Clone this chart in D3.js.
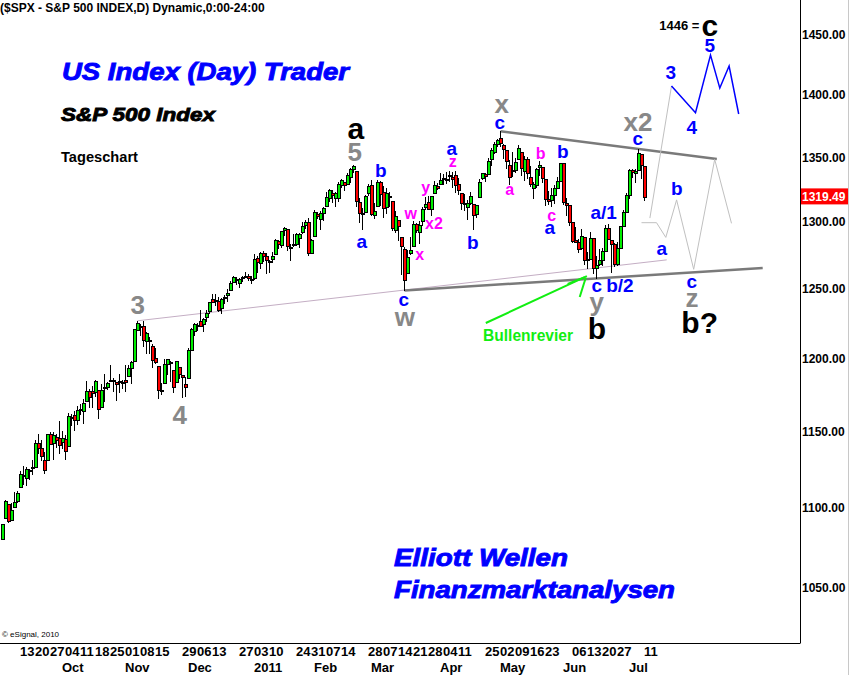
<!DOCTYPE html>
<html>
<head>
<meta charset="utf-8">
<script src="https://cdn.jsdelivr.net/npm/d3@7"></script>
<style>
body { margin: 0; background: #fff; }
svg { display: block; font-family: "Liberation Sans", Arial, sans-serif; }
</style>
</head>
<body>
<svg id="chart" width="850" height="675"></svg>
<script>
// S&P 500 daily candles, Sep 2010 - Jul 2011
var dates = [
 "2010-09-02","2010-09-03","2010-09-07","2010-09-08","2010-09-09","2010-09-10","2010-09-13","2010-09-14","2010-09-15","2010-09-16","2010-09-17","2010-09-20","2010-09-21","2010-09-22","2010-09-23","2010-09-24","2010-09-27","2010-09-28","2010-09-29","2010-09-30",
 "2010-10-01","2010-10-04","2010-10-05","2010-10-06","2010-10-07","2010-10-08","2010-10-11","2010-10-12","2010-10-13","2010-10-14","2010-10-15","2010-10-18","2010-10-19","2010-10-20","2010-10-21","2010-10-22","2010-10-25","2010-10-26","2010-10-27","2010-10-28","2010-10-29",
 "2010-11-01","2010-11-02","2010-11-03","2010-11-04","2010-11-05","2010-11-08","2010-11-09","2010-11-10","2010-11-11","2010-11-12","2010-11-15","2010-11-16","2010-11-17","2010-11-18","2010-11-19","2010-11-22","2010-11-23","2010-11-24","2010-11-26","2010-11-29","2010-11-30",
 "2010-12-01","2010-12-02","2010-12-03","2010-12-06","2010-12-07","2010-12-08","2010-12-09","2010-12-10","2010-12-13","2010-12-14","2010-12-15","2010-12-16","2010-12-17","2010-12-20","2010-12-21","2010-12-22","2010-12-23","2010-12-27","2010-12-28","2010-12-29","2010-12-30","2010-12-31",
 "2011-01-03","2011-01-04","2011-01-05","2011-01-06","2011-01-07","2011-01-10","2011-01-11","2011-01-12","2011-01-13","2011-01-14","2011-01-18","2011-01-19","2011-01-20","2011-01-21","2011-01-24","2011-01-25","2011-01-26","2011-01-27","2011-01-28","2011-01-31",
 "2011-02-01","2011-02-02","2011-02-03","2011-02-04","2011-02-07","2011-02-08","2011-02-09","2011-02-10","2011-02-11","2011-02-14","2011-02-15","2011-02-16","2011-02-17","2011-02-18","2011-02-22","2011-02-23","2011-02-24","2011-02-25","2011-02-28",
 "2011-03-01","2011-03-02","2011-03-03","2011-03-04","2011-03-07","2011-03-08","2011-03-09","2011-03-10","2011-03-11","2011-03-14","2011-03-15","2011-03-16","2011-03-17","2011-03-18","2011-03-21","2011-03-22","2011-03-23","2011-03-24","2011-03-25","2011-03-28","2011-03-29","2011-03-30","2011-03-31",
 "2011-04-01","2011-04-04","2011-04-05","2011-04-06","2011-04-07","2011-04-08","2011-04-11","2011-04-12","2011-04-13","2011-04-14","2011-04-15","2011-04-18","2011-04-19","2011-04-20","2011-04-21","2011-04-25","2011-04-26","2011-04-27","2011-04-28","2011-04-29",
 "2011-05-02","2011-05-03","2011-05-04","2011-05-05","2011-05-06","2011-05-09","2011-05-10","2011-05-11","2011-05-12","2011-05-13","2011-05-16","2011-05-17","2011-05-18","2011-05-19","2011-05-20","2011-05-23","2011-05-24","2011-05-25","2011-05-26","2011-05-27","2011-05-31",
 "2011-06-01","2011-06-02","2011-06-03","2011-06-06","2011-06-07","2011-06-08","2011-06-09","2011-06-10","2011-06-13","2011-06-14","2011-06-15","2011-06-16","2011-06-17","2011-06-20","2011-06-21","2011-06-22","2011-06-23","2011-06-24","2011-06-27","2011-06-28","2011-06-29","2011-06-30",
 "2011-07-01","2011-07-05","2011-07-06","2011-07-07","2011-07-08","2011-07-11"
];

var opens = [
 1080.66,1093.61,1102.60,1092.36,1101.15,1104.57,1113.38,1121.16,1119.43,1123.89,1126.39,1126.57,1142.82,1139.49,1131.10,1131.69,1148.64,1142.31,1146.75,1145.97,
 1143.49,1144.96,1140.68,1159.81,1161.57,1158.36,1165.32,1164.28,1171.32,1177.82,1177.47,1176.83,1178.64,1166.74,1179.56,1180.52,1184.74,1184.88,1183.84,1184.47,1183.87,
 1185.71,1187.86,1193.79,1198.34,1221.20,1223.24,1223.59,1213.14,1213.04,1209.07,1200.44,1194.79,1178.33,1183.75,1196.12,1198.07,1192.51,1183.70,1194.16,1189.08,1182.96,
 1186.60,1206.81,1219.93,1223.87,1227.25,1225.02,1230.14,1233.85,1242.52,1241.84,1241.58,1236.34,1243.63,1245.76,1249.43,1254.94,1257.53,1254.66,1259.10,1258.78,1259.44,1256.76,
 1257.62,1272.95,1268.78,1276.29,1274.41,1270.84,1272.58,1275.65,1285.78,1282.90,1293.22,1294.52,1280.85,1283.63,1283.29,1288.17,1291.97,1297.51,1299.63,1276.50,
 1289.14,1305.91,1302.77,1307.01,1311.85,1318.76,1322.48,1318.13,1318.66,1328.73,1330.43,1329.51,1334.37,1340.38,1338.91,1315.44,1307.09,1307.34,1321.61,
 1328.64,1305.47,1312.37,1330.73,1322.72,1311.05,1319.92,1315.72,1293.43,1301.19,1288.46,1279.46,1261.61,1276.71,1281.65,1298.29,1292.19,1300.61,1311.80,1315.45,1309.37,1321.89,1327.44,
 1329.48,1333.56,1332.03,1335.94,1334.82,1336.16,1329.01,1321.96,1314.03,1311.13,1314.54,1313.35,1305.99,1319.12,1333.23,1337.14,1336.75,1348.43,1353.86,1360.14,
 1365.21,1359.76,1355.90,1344.16,1340.24,1340.20,1348.34,1354.51,1339.39,1348.69,1334.77,1326.10,1328.54,1342.40,1342.00,1333.07,1317.70,1316.36,1320.64,1325.69,1331.10,
 1345.20,1314.55,1312.94,1300.26,1286.31,1284.63,1279.63,1288.26,1271.31,1272.22,1287.87,1265.53,1268.58,1271.50,1278.40,1295.48,1286.60,1283.04,1268.44,1280.21,1296.85,1307.64,
 1320.64,1339.59,1337.56,1339.62,1352.39,1343.31
];

var highs = [
 1090.10,1105.10,1102.60,1103.26,1110.27,1110.88,1123.87,1127.36,1126.46,1125.44,1131.47,1144.86,1148.59,1144.38,1136.77,1148.90,1149.92,1150.00,1148.63,1157.16,
 1150.30,1148.16,1162.76,1162.33,1163.87,1167.73,1168.68,1172.58,1184.38,1178.89,1181.20,1185.53,1178.64,1182.94,1189.43,1183.93,1196.14,1187.11,1183.84,1189.53,1185.46,
 1195.81,1195.88,1198.30,1221.25,1227.08,1224.57,1226.84,1218.75,1215.45,1210.50,1207.43,1194.79,1183.56,1200.29,1199.97,1198.94,1192.51,1198.62,1194.16,1189.08,1187.40,
 1207.61,1221.89,1225.57,1225.80,1235.05,1228.93,1234.71,1240.40,1246.73,1246.59,1244.25,1243.75,1245.81,1250.20,1255.82,1259.39,1258.59,1258.43,1259.90,1262.60,1261.09,1259.34,
 1276.17,1274.12,1277.63,1278.17,1276.83,1271.52,1277.25,1286.87,1286.70,1293.24,1296.06,1294.60,1283.35,1291.21,1291.93,1291.26,1299.74,1301.63,1302.67,1287.17,
 1308.86,1307.61,1308.60,1311.00,1322.85,1324.87,1324.54,1322.78,1330.79,1332.96,1330.43,1337.61,1341.50,1344.07,1338.91,1317.91,1310.91,1320.61,1329.38,
 1332.09,1314.19,1332.28,1331.08,1327.68,1325.74,1323.21,1315.72,1308.35,1301.19,1288.46,1280.91,1278.88,1288.88,1300.58,1299.35,1300.51,1311.34,1319.18,1319.74,1319.45,1331.74,1329.77,
 1337.85,1336.74,1338.21,1339.38,1338.80,1339.46,1333.77,1321.96,1321.35,1316.79,1322.88,1313.35,1312.70,1332.66,1337.49,1337.55,1349.55,1357.49,1361.71,1364.56,
 1370.58,1360.84,1355.90,1348.00,1354.36,1349.44,1359.44,1354.51,1351.05,1350.47,1343.33,1330.42,1341.82,1346.82,1342.00,1333.07,1323.72,1325.86,1328.51,1334.62,1345.20,
 1345.20,1318.03,1312.94,1300.26,1296.22,1287.04,1294.54,1288.26,1277.04,1292.50,1287.87,1274.11,1279.82,1280.42,1297.62,1298.61,1286.60,1283.93,1284.91,1296.80,1309.21,1321.97,
 1341.01,1340.89,1340.94,1356.48,1352.39,1343.31
];

var lows = [
 1080.39,1093.61,1091.15,1092.36,1101.15,1103.92,1113.38,1115.58,1114.63,1118.88,1122.43,1126.57,1136.22,1131.58,1122.79,1131.69,1142.00,1132.09,1140.26,1136.08,
 1139.42,1131.87,1140.68,1154.85,1151.41,1155.58,1162.02,1155.71,1171.32,1166.71,1167.12,1174.55,1159.71,1166.74,1171.17,1178.99,1184.74,1177.72,1171.70,1177.10,1179.70,
 1177.65,1187.86,1183.56,1198.34,1220.29,1217.19,1208.94,1204.33,1204.49,1194.08,1197.15,1173.00,1175.82,1183.75,1189.44,1184.58,1176.91,1183.70,1186.93,1173.64,1174.14,
 1186.60,1206.81,1216.82,1220.67,1223.25,1219.50,1226.85,1232.58,1240.34,1238.17,1234.01,1232.85,1239.87,1241.51,1249.43,1254.94,1254.05,1251.48,1256.22,1258.78,1256.32,1254.19,
 1257.62,1262.66,1265.36,1270.43,1261.70,1262.18,1269.62,1275.65,1280.47,1281.24,1290.16,1278.92,1271.26,1282.07,1282.47,1281.07,1291.97,1295.61,1275.10,1276.50,
 1289.14,1302.62,1294.83,1301.67,1311.85,1316.03,1314.89,1311.74,1316.08,1326.90,1324.61,1329.51,1331.00,1338.12,1312.33,1299.55,1294.26,1307.34,1320.55,
 1305.34,1302.58,1312.37,1312.59,1303.99,1306.86,1312.27,1294.21,1291.99,1286.37,1261.12,1249.05,1261.61,1276.18,1281.65,1292.70,1284.05,1297.74,1310.15,1310.19,1305.26,1321.89,1325.03,
 1328.89,1329.10,1330.03,1331.09,1326.56,1322.94,1321.06,1309.51,1309.19,1302.42,1313.68,1294.70,1303.97,1319.12,1332.83,1331.47,1336.75,1344.25,1353.60,1358.69,
 1358.59,1349.52,1341.50,1329.17,1335.58,1338.64,1348.34,1336.36,1332.03,1333.36,1327.32,1318.51,1326.59,1336.36,1330.67,1312.88,1313.87,1311.80,1314.41,1325.69,1331.10,
 1313.71,1305.61,1297.90,1284.72,1284.74,1277.42,1279.63,1268.28,1265.64,1272.22,1261.90,1258.07,1267.40,1267.56,1278.40,1286.79,1262.87,1267.24,1267.53,1280.21,1296.85,1307.64,
 1318.18,1334.30,1330.92,1339.62,1333.71,1316.42
];

var closes = [
 1090.10,1104.51,1091.84,1098.87,1104.18,1109.55,1121.90,1121.10,1125.07,1124.66,1125.59,1142.71,1139.78,1134.28,1124.83,1148.67,1142.16,1147.70,1144.73,1141.20,
 1146.24,1137.03,1160.75,1159.97,1158.06,1165.15,1165.32,1169.77,1178.10,1173.81,1176.19,1184.71,1165.90,1178.17,1180.26,1183.08,1185.62,1185.64,1182.45,1183.78,1183.26,
 1184.38,1193.57,1197.96,1221.06,1225.85,1223.25,1213.40,1218.71,1213.54,1199.21,1197.75,1178.34,1178.59,1196.69,1199.73,1197.84,1180.73,1198.35,1189.40,1187.76,1180.55,
 1206.07,1221.53,1224.71,1223.12,1223.75,1228.28,1233.00,1240.40,1240.46,1241.59,1235.23,1242.87,1243.91,1247.08,1254.60,1258.84,1256.77,1257.54,1258.51,1259.78,1257.88,1257.64,
 1271.87,1270.20,1276.56,1273.85,1271.50,1269.75,1274.48,1285.96,1283.76,1293.24,1295.02,1281.92,1280.26,1283.35,1290.84,1291.18,1296.63,1299.54,1276.34,1286.12,
 1307.59,1304.03,1307.10,1310.87,1319.05,1324.57,1320.88,1321.87,1329.15,1332.32,1328.01,1336.32,1340.43,1343.01,1315.44,1307.40,1306.10,1319.88,1327.22,
 1306.33,1308.44,1330.97,1321.15,1310.13,1321.82,1320.02,1295.11,1304.28,1296.39,1281.87,1256.88,1273.72,1279.21,1298.38,1293.77,1297.54,1309.66,1313.80,1310.19,1319.44,1328.26,1325.83,
 1332.41,1332.87,1332.63,1335.54,1333.51,1328.17,1324.46,1314.16,1314.41,1314.52,1319.68,1305.14,1312.62,1330.36,1337.38,1335.25,1347.24,1355.66,1360.48,1363.61,
 1361.22,1356.62,1347.32,1335.10,1340.20,1346.29,1357.16,1342.08,1348.65,1337.77,1329.47,1328.98,1340.68,1343.60,1333.27,1317.37,1316.28,1320.47,1325.69,1331.10,1345.20,
 1314.55,1312.94,1300.16,1286.17,1284.94,1279.56,1289.00,1270.98,1271.83,1287.87,1265.42,1267.64,1271.50,1278.36,1295.52,1287.14,1283.50,1268.45,1280.10,1296.67,1307.41,1320.64,
 1339.67,1337.88,1339.22,1353.22,1343.80,1319.49
];

var priceTicks = [1050, 1100, 1150, 1200, 1250, 1300, 1350, 1400, 1450];
var lastPrice = 1319.49;

var weekTicks = ["2010-09-13","2010-09-20","2010-09-27","2010-10-04","2010-10-11","2010-10-18","2010-10-25","2010-11-01","2010-11-08","2010-11-15",
 "2010-11-29","2010-12-06","2010-12-13","2010-12-27","2011-01-03","2011-01-10","2011-01-24","2011-01-31","2011-02-07","2011-02-14",
 "2011-02-28","2011-03-07","2011-03-14","2011-03-21","2011-03-28","2011-04-04","2011-04-11","2011-04-25","2011-05-02","2011-05-09",
 "2011-05-16","2011-05-23","2011-06-06","2011-06-13","2011-06-20","2011-06-27","2011-07-11"];
var monthStarts = ["2010-10-01","2010-11-01","2010-12-01","2011-01-03","2011-02-01","2011-03-01","2011-04-01","2011-05-02","2011-06-01","2011-07-01"];
var monthNames  = ["Oct","Nov","Dec","2011","Feb","Mar","Apr","May","Jun","Jul"];

// trend lines and projected paths, as [bar index, price]
var thinLine   = [[45, 1227.08], [221.4, 1271.5]];
var upperLine  = [[166, 1370.58], [238.1, 1348.6]];
var lowerLine  = [[134, 1249.05], [253.4, 1265.5]];
var greyPathA  = [[213.0, 1299.4], [218.0, 1299.4], [221.1, 1288.3], [224.7, 1316.8], [230.4, 1264.5], [237.4, 1348.3], [243.0, 1298.9]];
var greyPathB  = [[215.8, 1302.9], [223.0, 1407.3]];
var bluePath   = [[223.0, 1407.3], [231.0, 1385.5], [236.0, 1433.0], [239.1, 1405.6], [242.2, 1423.8], [245.4, 1384.5]];
var arrowLines = [[[161.1, 1225.5], [194.8, 1259.5]], [[188.4, 1253.7], [194.1, 1258.8]], [[192.4, 1244.2], [194.4, 1258.1]]];

// wave labels: text, bar index, price, style
var waveLabels = [
 ["3", 45.1, 1238.4, "grey"], ["4", 59.1, 1161.4, "grey"],
 ["a", 117.8, 1373.2, "black"], ["5", 117.4, 1354.1, "grey"],
 ["b", 126.1, 1340.0, "blue"], ["a", 119.8, 1285.6, "blue"],
 ["c", 133.8, 1242.8, "blue"], ["w", 134.1, 1229.9, "grey"],
 ["w", 136.1, 1306.8, "pink"], ["x", 139.1, 1275.9, "pink"], ["y", 141.1, 1326.8, "pink"],
 ["x2", 143.8, 1299.2, "pink"], ["z", 150.1, 1347.0, "pink"],
 ["a", 149.8, 1357.3, "blue"], ["b", 156.8, 1284.8, "blue"],
 ["x", 166.4, 1392.6, "grey"], ["c", 165.8, 1378.1, "blue"],
 ["a", 169.1, 1325.2, "pink"], ["b", 179.4, 1353.3, "pink"], ["c", 183.1, 1305.3, "pink"],
 ["b", 186.8, 1354.9, "blue"], ["a", 182.4, 1296.1, "blue"],
 ["c", 198.1, 1253.0, "blue"], ["b/2", 205.8, 1253.0, "blue"], ["y", 198.1, 1240.6, "grey"], ["b", 198.1, 1221.9, "black"],
 ["a/1", 200.4, 1307.5, "blue"],
 ["x2", 211.8, 1378.1, "grey"], ["c", 211.8, 1365.2, "blue"],
 ["a", 219.8, 1280.2, "blue"], ["b", 224.8, 1326.0, "blue"],
 ["c", 229.8, 1255.3, "blue"], ["z", 229.8, 1243.6, "grey"], ["b?", 232.4, 1225.5, "black"],
 ["3", 222.8, 1418.9, "blue"], ["4", 229.8, 1374.0, "blue"], ["5", 235.8, 1441.4, "blue"],
 ["c", 235.8, 1458.3, "black"]
];

var labelStyle = {
  black: {color: "#000000", size: 30},
  grey:  {color: "#888888", size: 26},
  blue:  {color: "#0000ff", size: 19},
  pink:  {color: "#ff00ff", size: 16}
};

var svg = d3.select("#chart");

var x = d3.scaleLinear().domain([0, 100]).range([2.5, 302.5]);   // 3 px per bar
var y = d3.scaleLog().domain([1050, 1450]).range([587.8, 34.8]);

var line = d3.line().x(d => x(d[0])).y(d => y(d[1]));

// frame
svg.append("line").attr("x1", 0).attr("x2", 800).attr("y1", 643.5).attr("y2", 643.5).attr("stroke", "#000");
svg.append("line").attr("x1", 800.5).attr("x2", 800.5).attr("y1", 0).attr("y2", 643.5).attr("stroke", "#000");
svg.append("line").attr("x1", 848.5).attr("x2", 848.5).attr("y1", 0).attr("y2", 675).attr("stroke", "#c8c8c8");

// header texts
svg.append("text").attr("x", 0).attr("y", 12).attr("font-size", 12).attr("font-weight", "bold")
  .text("($SPX - S&P 500 INDEX,D) Dynamic,0:00-24:00");
svg.append("text").attr("x", 2).attr("y", 637).attr("font-size", 8).text("\u00a9 eSignal, 2010");

function heavyText(txt, px, py, size, color, len) {
  svg.append("text").attr("x", px).attr("y", py)
    .attr("font-size", size).attr("font-weight", "bold").attr("font-style", "italic")
    .attr("fill", color).attr("stroke", color).attr("stroke-width", 0.9)
    .attr("textLength", len).attr("lengthAdjust", "spacingAndGlyphs")
    .text(txt);
}
heavyText("US Index (Day) Trader", 62, 80, 24, "#0000ff", 287);
heavyText("S&P 500 Index", 61, 121, 19, "#000", 154);
heavyText("Elliott Wellen", 394, 566, 24, "#0000ff", 174);
heavyText("Finanzmarktanalysen", 394, 598, 24, "#0000ff", 281);
svg.append("text").attr("x", 61).attr("y", 162).attr("font-size", 14).attr("font-weight", "bold")
  .attr("textLength", 77).attr("lengthAdjust", "spacingAndGlyphs").text("Tageschart");

// trend lines
svg.append("path").attr("d", line(thinLine)).attr("fill", "none").attr("stroke", "#c4aec4").attr("stroke-width", 1);
svg.append("path").attr("d", line(upperLine)).attr("fill", "none").attr("stroke", "#7a7a7a").attr("stroke-width", 2.5);
svg.append("path").attr("d", line(lowerLine)).attr("fill", "none").attr("stroke", "#7a7a7a").attr("stroke-width", 2.5);
svg.append("path").attr("d", line(greyPathA)).attr("fill", "none").attr("stroke", "#c0c0c0").attr("stroke-width", 1);
svg.append("path").attr("d", line(greyPathB)).attr("fill", "none").attr("stroke", "#c0c0c0").attr("stroke-width", 1);
svg.append("path").attr("d", line(bluePath)).attr("fill", "none").attr("stroke", "#0000ff").attr("stroke-width", 1.5);

// candles
var idx = d3.range(dates.length);
var candles = svg.append("g").attr("shape-rendering", "crispEdges");
candles.selectAll(".wick").data(idx).join("line")
  .attr("class", "wick")
  .attr("x1", i => x(i)).attr("x2", i => x(i))
  .attr("y1", i => y(highs[i])).attr("y2", i => y(lows[i]) + 1)
  .attr("stroke", "#000");
candles.selectAll(".body").data(idx).join("rect")
  .attr("class", "body")
  .attr("x", i => x(i) - 1)
  .attr("width", 3)
  .attr("y", i => Math.round(y(Math.max(opens[i], closes[i]))) + 0.5)
  .attr("height", i => Math.max(1, Math.round(Math.abs(y(opens[i]) - y(closes[i])))))
  .attr("fill", i => closes[i] >= opens[i] ? "#00ee00" : "#ff0000")
  .attr("stroke", "#000");

// Bullenrevier arrow
arrowLines.forEach(function(seg) {
  svg.append("path").attr("d", line(seg)).attr("stroke", "#11ee11").attr("stroke-width", 2).attr("fill", "none");
});
svg.append("text").attr("x", 483).attr("y", 341).attr("font-size", 16).attr("font-weight", "bold")
  .attr("fill", "#11ee11").attr("textLength", 90).attr("lengthAdjust", "spacingAndGlyphs").text("Bullenrevier");

// wave labels
svg.append("g").selectAll("text").data(waveLabels).join("text")
  .attr("x", d => x(d[1])).attr("y", d => y(d[2]))
  .attr("dy", "0.35em")
  .attr("text-anchor", "middle")
  .attr("font-weight", "bold")
  .attr("font-size", d => labelStyle[d[3]].size)
  .attr("fill", d => labelStyle[d[3]].color)
  .text(d => d[0]);
svg.append("text").attr("x", x(225.6)).attr("y", y(1458.3)).attr("dy", "0.35em")
  .attr("text-anchor", "middle").attr("font-size", 13).attr("font-weight", "bold").text("1446 =");

// price axis
var yAxis = d3.axisRight(y).tickValues(priceTicks).tickFormat(d3.format(".2f")).tickSize(0).tickPadding(2);
svg.append("g").attr("transform", "translate(800,0)").call(yAxis)
  .call(g => g.select(".domain").remove())
  .attr("font-family", "'Liberation Sans', Arial, sans-serif").attr("font-size", 12).attr("font-weight", "bold");

svg.append("rect").attr("x", 801).attr("y", y(lastPrice) - 8).attr("width", 47).attr("height", 16).attr("fill", "#ff0000");
svg.append("text").attr("x", 802).attr("y", y(lastPrice)).attr("dy", "0.35em")
  .attr("font-size", 12).attr("font-weight", "bold").attr("fill", "#fff").text(lastPrice.toFixed(2));

// date axis
var dayAxis = d3.axisBottom(x).tickValues(weekTicks.map(d => dates.indexOf(d)))
  .tickFormat(i => dates[i].slice(8)).tickSize(0).tickPadding(0);
svg.append("g").attr("transform", "translate(-1,647)").call(dayAxis)
  .call(g => g.select(".domain").remove())
  .attr("font-family", "'Liberation Sans', Arial, sans-serif").attr("font-size", 13).attr("font-weight", "bold")
  .selectAll("text").attr("text-anchor", "start");

var monthAxis = d3.axisBottom(x).tickValues(monthStarts.map(d => dates.indexOf(d)))
  .tickFormat((d, i) => monthNames[i]).tickSize(0).tickPadding(0);
svg.append("g").attr("transform", "translate(-1,663)").call(monthAxis)
  .call(g => g.select(".domain").remove())
  .attr("font-family", "'Liberation Sans', Arial, sans-serif").attr("font-size", 13).attr("font-weight", "bold")
  .selectAll("text").attr("text-anchor", "start");
</script>
</body>
</html>
